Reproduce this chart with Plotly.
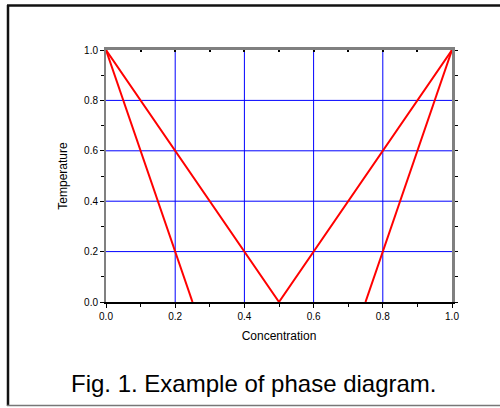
import plotly.graph_objects as go

# data
line1_x = [0.0, 0.25]
line1_y = [1.0, 0.0]
line2_x = [0.0, 0.5, 1.0]
line2_y = [1.0, 0.0, 1.0]
line3_x = [1.0, 0.75]
line3_y = [1.0, 0.0]

tick_vals = [0.0, 0.2, 0.4, 0.6, 0.8, 1.0]
tick_text = ["0.0", "0.2", "0.4", "0.6", "0.8", "1.0"]
vgrid = [0.2, 0.4, 0.6, 0.8]
hgrid = [0.2, 0.4, 0.6, 0.8]

FONT = "Liberation Sans, Arial, sans-serif"
W, H = 500, 408
L, R, T, B = 106, 452, 50, 302

fig = go.Figure()
for xs, ys in [(line1_x, line1_y), (line2_x, line2_y), (line3_x, line3_y)]:
    fig.add_trace(go.Scatter(x=xs, y=ys, mode="lines",
                             line=dict(color="#ff0000", width=2),
                             showlegend=False, hoverinfo="skip", cliponaxis=False))
# invisible trace for mirror axes
fig.add_trace(go.Scatter(x=[0, 1], y=[0, 1], xaxis="x2", yaxis="y2", mode="markers",
                         marker=dict(opacity=0), showlegend=False, hoverinfo="skip"))

shapes = []
for v in vgrid:
    shapes.append(dict(type="line", xref="x", yref="y", x0=v, x1=v, y0=0, y1=1,
                       line=dict(color="#0000ff", width=1), layer="below"))
for v in hgrid:
    shapes.append(dict(type="line", xref="x", yref="y", x0=0, x1=1, y0=v, y1=v,
                       line=dict(color="#0000ff", width=1), layer="below"))


def px2paper_x(px):
    return (px - L) / (R - L)


def px2paper_y(py):
    return (B - py) / (B - T)

# outer figure frame
shapes.append(dict(type="line", xref="paper", yref="paper",
                   x0=px2paper_x(7), x1=px2paper_x(505), y0=px2paper_y(5.5), y1=px2paper_y(5.5),
                   line=dict(color="#111111", width=2.5)))
shapes.append(dict(type="line", xref="paper", yref="paper",
                   x0=px2paper_x(8), x1=px2paper_x(8), y0=px2paper_y(5), y1=px2paper_y(406),
                   line=dict(color="#111111", width=2.5)))
shapes.append(dict(type="line", xref="paper", yref="paper",
                   x0=px2paper_x(7), x1=px2paper_x(505), y0=px2paper_y(405.5), y1=px2paper_y(405.5),
                   line=dict(color="#777777", width=1.5)))

fig.update_layout(
    width=W, height=H,
    margin=dict(l=L, r=W - R, t=T, b=H - B),
    paper_bgcolor="white", plot_bgcolor="white",
    font=dict(family=FONT, color="#000000", size=10),
    shapes=shapes,
    xaxis=dict(range=[0, 1], tickvals=tick_vals, ticktext=tick_text,
               showgrid=False, zeroline=False,
               showline=True, linecolor="#000000", linewidth=1.5,
               ticks="outside", ticklen=4, tickwidth=1, tickcolor="#000000",
               minor=dict(dtick=0.1, ticks="outside", ticklen=3, tickcolor="#000000", showgrid=False),
               tickfont=dict(family=FONT, size=10),
               title=dict(text="Concentration", font=dict(family=FONT, size=12), standoff=11)),
    yaxis=dict(range=[0, 1], tickvals=tick_vals, ticktext=tick_text,
               showgrid=False, zeroline=False,
               showline=True, linecolor="#808080", linewidth=2,
               ticks="outside", ticklen=4, tickwidth=1, tickcolor="#000000",
               minor=dict(dtick=0.1, ticks="outside", ticklen=3, tickcolor="#000000", showgrid=False),
               tickfont=dict(family=FONT, size=10),
               title=dict(text="Temperature", font=dict(family=FONT, size=12), standoff=14)),
    xaxis2=dict(range=[0, 1], overlaying="x", side="top", showgrid=False, zeroline=False,
                showline=True, linecolor="#808080", linewidth=2.5,
                tick0=0, dtick=0.1, ticks="inside", ticklen=2, tickwidth=2, tickcolor="#000000",
                showticklabels=False),
    yaxis2=dict(range=[0, 1], overlaying="y", side="right", showgrid=False, zeroline=False,
                showline=True, linecolor="#808080", linewidth=2.5,
                tick0=0, dtick=0.1, ticks="outside", ticklen=3, tickwidth=1, tickcolor="#000000",
                showticklabels=False),
    annotations=[dict(text="Fig. 1. Example of phase diagram.", xref="paper", yref="paper",
                      x=px2paper_x(254), y=px2paper_y(383), xanchor="center", yanchor="middle",
                      showarrow=False, font=dict(family=FONT, size=24, color="#000000"))],
)

fig.write_html("out.html")
